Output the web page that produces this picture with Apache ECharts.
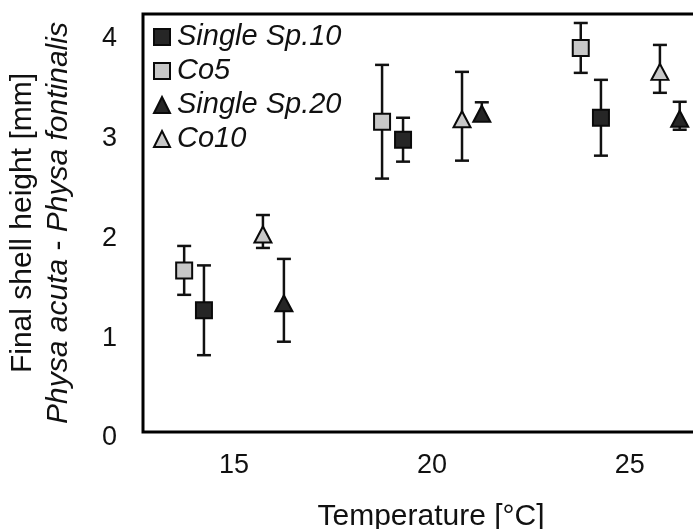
<!DOCTYPE html>
<html><head><meta charset="utf-8">
<script src="https://cdn.jsdelivr.net/npm/echarts@6/dist/echarts.min.js"></script>
<style>html,body{margin:0;padding:0;background:#fff}#c{width:693px;height:529px}</style>
</head><body><div id="c"></div>
<script>
// ---- data ----
const seriesNames = ['Single Sp.10', 'Co5', 'Single Sp.20', 'Co10'];
const xTicks = [15, 20, 25];
const yTicks = [0, 1, 2, 3, 4];

const sp10Temp = [14.24, 19.27, 24.27];
const sp10Mean = [1.22, 2.93, 3.15];
const sp10Err  = [0.45, 0.22, 0.38];

const co5Temp = [13.74, 18.74, 23.76];
const co5Mean = [1.62, 3.11, 3.85];
const co5Err  = [0.245, 0.57, 0.25];

const sp20Temp = [16.26, 21.26, 26.26];
const sp20Mean = [1.32, 3.22, 3.17];
const sp20Err  = [0.415, 0.085, 0.14];

const co10Temp = [15.73, 20.76, 25.76];
const co10Mean = [2.01, 3.165, 3.64];
const co10Err  = [0.165, 0.445, 0.24];

// ---- build ----
const FONT = 'Liberation Sans, Arial, sans-serif';
const DARK = '#262626', LIGHT = '#c8c8c8', EDGE = '#0a0a0a';

function pts(t, m) { return t.map((x, i) => [x, m[i]]); }
function errs(t, m, e) { return t.map((x, i) => [x, m[i] - e[i], m[i] + e[i]]); }

function errRender(params, api) {
  const x = api.value(0), lo = api.value(1), hi = api.value(2);
  const p1 = api.coord([x, hi]), p2 = api.coord([x, lo]);
  const hw = 7;
  const style = { stroke: '#111', lineWidth: 2.5 };
  return { type: 'group', children: [
    { type: 'line', shape: { x1: p1[0], y1: p1[1], x2: p2[0], y2: p2[1] }, style },
    { type: 'line', shape: { x1: p1[0] - hw, y1: p1[1], x2: p1[0] + hw, y2: p1[1] }, style },
    { type: 'line', shape: { x1: p2[0] - hw, y1: p2[1], x2: p2[0] + hw, y2: p2[1] }, style }
  ]};
}

const groups = [
  { name: seriesNames[0], t: sp10Temp, m: sp10Mean, e: sp10Err, sym: 'rect', fill: DARK, size: 16, off: [0, 0] },
  { name: seriesNames[1], t: co5Temp, m: co5Mean, e: co5Err, sym: 'rect', fill: LIGHT, size: 16, off: [0, 0] },
  { name: seriesNames[2], t: sp20Temp, m: sp20Mean, e: sp20Err, sym: 'triangle', fill: DARK, size: [17, 16], off: [0, 3] },
  { name: seriesNames[3], t: co10Temp, m: co10Mean, e: co10Err, sym: 'triangle', fill: LIGHT, size: [17, 16], off: [0, 3] }
];

const series = [];
groups.forEach(g => {
  series.push({
    type: 'custom', name: g.name + ' err', renderItem: errRender,
    data: errs(g.t, g.m, g.e), encode: { x: 0, y: [1, 2] }, z: 2, silent: true, clip: false
  });
});
groups.forEach(g => {
  series.push({
    type: 'scatter', name: g.name, data: pts(g.t, g.m), symbol: g.sym,
    symbolSize: g.size, symbolOffset: g.off, z: 5,
    itemStyle: { color: g.fill, borderColor: EDGE, borderWidth: 2, opacity: 1 }
  });
});

const chart = echarts.init(document.getElementById('c'), null, { renderer: 'canvas' });
chart.setOption({
  backgroundColor: '#fff',
  animation: false,
  grid: { left: 143, top: 14, right: -16, bottom: 97, show: true, borderColor: '#000', borderWidth: 3,
          backgroundColor: 'transparent', containLabel: false, outerBoundsMode: 'none' },
  legend: {
    data: seriesNames, orient: 'vertical', left: 153, top: 22, padding: 0,
    itemGap: 4, itemWidth: 16, itemHeight: 16,
    textStyle: { fontFamily: FONT, fontSize: 29, fontStyle: 'italic', color: '#111', lineHeight: 30, padding: [0, 0, 0, 2] }
  },
  xAxis: {
    type: 'value', min: 12.7, max: 27,
    name: 'Temperature [°C]', nameLocation: 'middle', nameGap: 70,
    nameTextStyle: { fontFamily: FONT, fontSize: 30, color: '#111', padding: [0, 0, 0, 10] },
    axisLine: { show: false }, axisTick: { show: false }, splitLine: { show: false },
    axisLabel: { customValues: xTicks, fontFamily: FONT, fontSize: 27, color: '#111', margin: 20 }
  },
  yAxis: {
    type: 'value', min: 0, max: 4.19,
    name: '{n|Final shell height [mm]}\n{i|Physa acuta}{n| - }{i|Physa fontinalis}',
    nameLocation: 'middle', nameGap: 66, nameRotate: 90,
    nameTextStyle: {
      color: '#111', lineHeight: 36,
      rich: {
        n: { fontFamily: FONT, fontSize: 30, color: '#111', lineHeight: 36 },
        i: { fontFamily: FONT, fontSize: 30, fontStyle: 'italic', color: '#111', lineHeight: 36 }
      }
    },
    axisLine: { show: false }, axisTick: { show: false }, splitLine: { show: false },
    axisLabel: { customValues: yTicks, fontFamily: FONT, fontSize: 27, color: '#111', margin: 26,
                 verticalAlign: 'top', lineHeight: 12 }
  },
  series
});
</script></body></html>
